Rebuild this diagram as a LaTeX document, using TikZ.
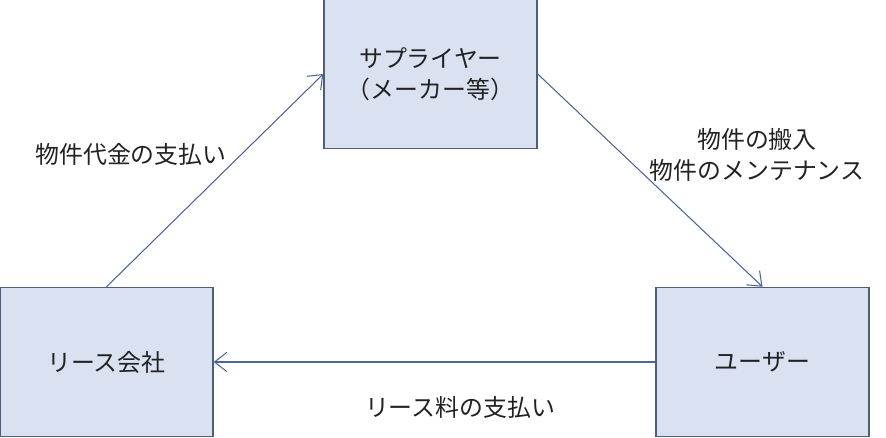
\documentclass[tikz,border=0pt]{standalone}
\usepackage{fontspec}
\newfontfamily\jpfont{Noto Sans CJK JP}
\usepackage{xcolor}
\usepackage{tikz}
\usetikzlibrary{arrows.meta}
\definecolor{boxfill}{HTML}{DAE1F0}
\definecolor{boxline}{HTML}{4F5F7A}
\definecolor{arrowline}{HTML}{4A6694}
\definecolor{txt}{HTML}{222222}

\begin{document}
\begin{tikzpicture}[
  party/.style={draw=boxline, fill=boxfill, line width=0.8pt, minimum width=4.26cm, minimum height=2.98cm, inner sep=0pt, align=center},
  flow/.style={draw=arrowline, line width=0.6pt, -{Straight Barb[length=7pt,width=11pt]}},
  every node/.style={font=\jpfont\fontsize{13.6}{17.6}\selectfont, text=txt}
]

\useasboundingbox (0,0) rectangle (17.72,8.76);

\node[party] (supplier) at (8.61,7.28) {サプライヤー\\（メーカー等）};
\node[party] (lease) at (2.13,1.52) {リース会社};
\node[party] (user) at (15.25,1.52) {ユーザー};

\draw [flow] (lease.north) -- (supplier.west);
\node at (2.62,5.68) {物件代金の支払い};

\draw [flow] (supplier.east) -- (user.north);
\node[align=center] at (15.14,5.67) {物件の搬入\\物件のメンテナンス};

\draw [flow] (user.west) -- (lease.east);
\node at (9.2,0.62) {リース料の支払い};

\end{tikzpicture}
\end{document}
